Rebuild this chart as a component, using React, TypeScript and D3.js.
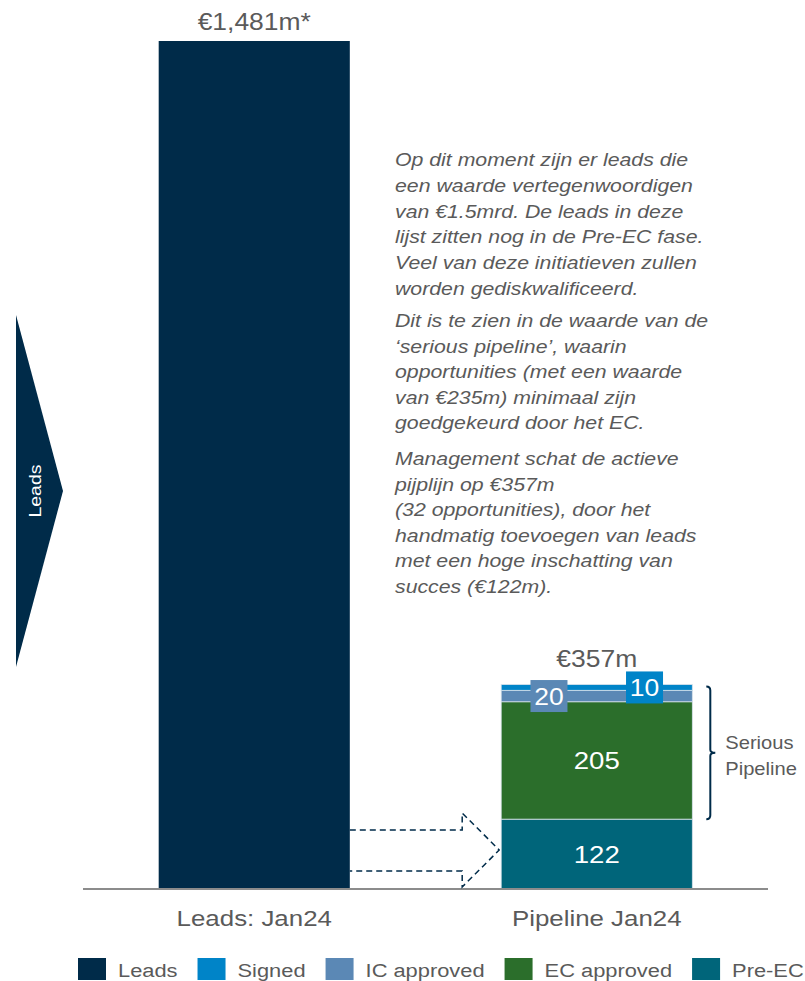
import React, { useEffect, useRef } from "react";
import * as d3 from "d3";

const categories = ["Leads: Jan24", "Pipeline Jan24"];
const leadsValues = [1481];
const stackKeys = ["Pre-EC", "EC approved", "IC approved", "Signed"];
const pipelineValues = [122, 205, 20, 10];
const totalLabels = ["€1,481m*", "€357m"];
const legendItems = ["Leads", "Signed", "IC approved", "EC approved", "Pre-EC"];
const sideLabel = "Leads";
const braceLabel = ["Serious", "Pipeline"];
const paragraphs = [
  [
    "Op dit moment zijn er leads die",
    "een waarde vertegenwoordigen",
    "van €1.5mrd. De leads in deze",
    "lijst zitten nog in de Pre-EC fase.",
    "Veel van deze initiatieven zullen",
    "worden gediskwalificeerd.",
  ],
  [
    "Dit is te zien in de waarde van de",
    "‘serious pipeline’, waarin",
    "opportunities (met een waarde",
    "van €235m) minimaal zijn",
    "goedgekeurd door het EC.",
  ],
  [
    "Management schat de actieve",
    "pijplijn op €357m",
    "(32 opportunities), door het",
    "handmatig toevoegen van leads",
    "met een hoge inschatting van",
    "succes (€122m).",
  ],
];

const COLORS: Record<string, string> = {
  Leads: "#002b49",
  Signed: "#0084c8",
  "IC approved": "#5b88b5",
  "EC approved": "#2b6e2b",
  "Pre-EC": "#00657a",
};

const FONT = "Arial, 'Liberation Sans', Helvetica, sans-serif";
const GRAY = "#5a5a5a";
const SX = 1.15;

export default function App() {
  const ref = useRef<SVGSVGElement>(null);

  useEffect(() => {
    const svg = d3.select(ref.current);
    svg.selectAll("*").remove();

    const x = d3
      .scaleBand<string>()
      .domain(categories)
      .range([83, 768])
      .paddingInner(0.442)
      .paddingOuter(0.221);
    const y = d3.scaleLinear().domain([0, leadsValues[0]]).range([889, 41]);
    const bw = x.bandwidth();

    const addText = (
      g: any,
      tx: number,
      ty: number,
      str: string,
      size: number,
      fill: string,
      anchor = "start",
      style = "normal",
      rotate = 0
    ) =>
      g
        .append("text")
        .attr(
          "transform",
          `translate(${tx},${ty}) rotate(${rotate}) scale(${SX},1)`
        )
        .attr("text-anchor", anchor)
        .attr("font-family", FONT)
        .attr("font-size", size)
        .attr("font-style", style)
        .attr("fill", fill)
        .text(str);

    // Chevron on the left
    svg
      .append("path")
      .attr("d", "M16,315 L63,491 L16,667 Z")
      .attr("fill", COLORS.Leads);
    addText(svg, 41, 491, sideLabel, 17, "#fff", "middle", "normal", -90);

    // Leads bar
    const c0 = categories[0];
    svg
      .append("rect")
      .attr("x", x(c0)!)
      .attr("y", y(leadsValues[0]))
      .attr("width", bw)
      .attr("height", y(0) - y(leadsValues[0]))
      .attr("fill", COLORS.Leads);

    // Pipeline stack
    const c1 = categories[1];
    const row: Record<string, number> = {};
    stackKeys.forEach((k, i) => (row[k] = pipelineValues[i]));
    const series = d3.stack<any>().keys(stackKeys)([row]);
    const x1 = x(c1)!;
    series.forEach((s) => {
      const d = s[0];
      svg
        .append("rect")
        .attr("x", x1)
        .attr("y", y(d[1]))
        .attr("width", bw)
        .attr("height", y(d[0]) - y(d[1]))
        .attr("fill", COLORS[s.key])
        .attr("stroke", "#d6e1ea")
        .attr("stroke-width", 0.8);
    });

    // Segment labels
    series.forEach((s, i) => {
      const d = s[0];
      const v = pipelineValues[i];
      const cy = (y(d[0]) + y(d[1])) / 2;
      if (v >= 50) {
        addText(svg, x1 + bw / 2, cy + 8.5, String(v), 24, "#fff", "middle");
      } else {
        const cx = s.key === "Signed" ? x1 + bw * 0.75 : x1 + bw * 0.25;
        svg
          .append("rect")
          .attr("x", cx - 18.5)
          .attr("y", cy - 16)
          .attr("width", 37)
          .attr("height", 32)
          .attr("fill", COLORS[s.key]);
        addText(svg, cx, cy + 8.5, String(v), 23, "#fff", "middle");
      }
    });

    // Totals
    const total = d3.sum(pipelineValues);
    addText(svg, x(c0)! + bw / 2, y(leadsValues[0]) - 11, totalLabels[0], 23, GRAY, "middle");
    addText(svg, x1 + bw / 2, y(total) - 18, totalLabels[1], 23, GRAY, "middle");

    // Axis baseline
    svg
      .append("line")
      .attr("x1", x.range()[0])
      .attr("x2", x.range()[1])
      .attr("y1", y(0))
      .attr("y2", y(0))
      .attr("stroke", "#8c8c8c")
      .attr("stroke-width", 2);

    // Category labels
    categories.forEach((c) => {
      addText(svg, x(c)! + bw / 2, 926, c, 22.5, GRAY, "middle");
    });

    // Dashed arrow
    const ax0 = x(c0)! + bw;
    const ax1 = x1 - 39;
    const tip = x1 - 2;
    svg
      .append("path")
      .attr(
        "d",
        `M${ax0},830 H${ax1} V813 L${tip},850 L${ax1},887 V871 H${ax0}`
      )
      .attr("fill", "none")
      .attr("stroke", COLORS.Leads)
      .attr("stroke-width", 1.5)
      .attr("stroke-dasharray", "6,4");

    // Brace for serious pipeline
    const bTop = y(total) + 2;
    const bBot = y(pipelineValues[0]);
    const bx = x1 + bw + 18;
    const bMid = (bTop + bBot) / 2;
    svg
      .append("path")
      .attr(
        "d",
        `M${bx - 4},${bTop} Q${bx},${bTop} ${bx},${bTop + 4} V${bMid - 3} Q${bx},${bMid} ${bx + 5},${bMid} Q${bx},${bMid} ${bx},${bMid + 3} V${bBot - 4} Q${bx},${bBot} ${bx - 4},${bBot}`
      )
      .attr("fill", "none")
      .attr("stroke", COLORS.Leads)
      .attr("stroke-width", 2);
    addText(svg, bx + 15, bMid - 4, braceLabel[0], 17.5, GRAY, "start");
    addText(svg, bx + 15, bMid + 22, braceLabel[1], 17.5, GRAY, "start");

    // Commentary text
    const starts = [166, 327, 465];
    const gaps = [25.8, 25.6, 25.5];
    paragraphs.forEach((p, pi) => {
      p.forEach((line, li) => {
        addText(svg, 395, starts[pi] + li * gaps[pi], line, 18.5, GRAY, "start", "italic");
      });
    });

    // Legend
    let lx = 78;
    legendItems.forEach((item) => {
      svg
        .append("rect")
        .attr("x", lx)
        .attr("y", 958)
        .attr("width", 28)
        .attr("height", 22)
        .attr("fill", COLORS[item]);
      const t = addText(svg, lx + 40, 977, item, 19, GRAY, "start");
      const w = (t.node() as SVGTextElement).getComputedTextLength() * SX;
      lx = lx + 40 + w + 20;
    });
  }, []);

  return (
    <svg
      ref={ref}
      width={805}
      height={981}
      style={{ position: "absolute", left: 0, top: 0, background: "#fff" }}
    />
  );
}
